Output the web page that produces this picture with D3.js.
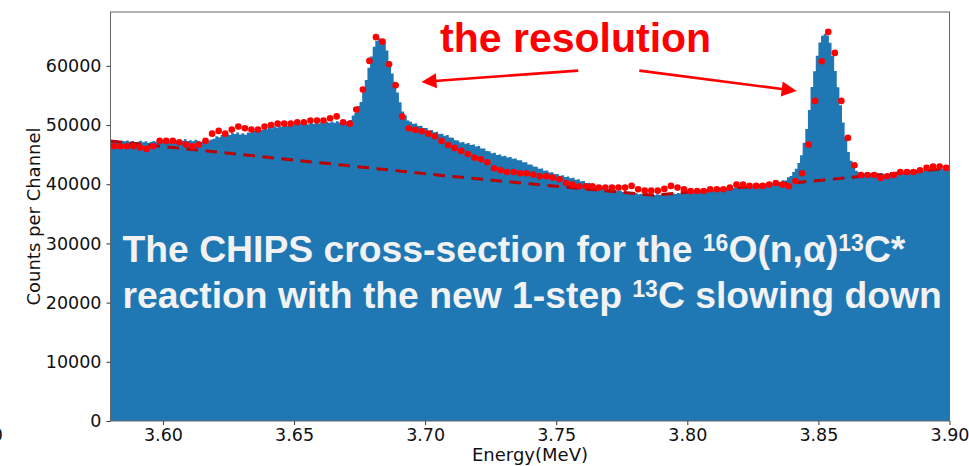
<!DOCTYPE html>
<html>
<head>
<meta charset="utf-8">
<script src="https://cdn.jsdelivr.net/npm/d3@7"></script>
<style>
  html, body { margin: 0; padding: 0; background: #fff; }
  svg { display: block; }
</style>
</head>
<body>
<svg id="chart" width="969" height="466"></svg>
<script>
// Energy spectrum: counts per 1 keV channel from 3.580 MeV upward
const binStart = 3.58;
const binWidth = 0.001;
const channelCounts = [
  47200, 47450, 47300, 47100, 47350, 47250, 47400, 47150, 47300, 47050,
  47200, 47350, 47100, 47250, 47000, 47150, 47300, 47200, 47450, 47250,
  47350, 47100, 47300, 47500, 47250, 47400, 47200, 47350, 47600, 47300,
  47450, 47250, 47500, 47350, 47200, 47450, 47600, 47400, 47550, 47700,
  48100, 47950, 48300, 48150, 48500, 48300, 48650, 48480, 48750, 48400,
  48600, 48350, 48750, 48650, 49100, 48980, 49350, 49150, 49480, 49300,
  49650, 49450, 49800, 49600, 49900, 49700, 50050, 49850, 50150, 49900,
  50200, 50000, 50300, 50050, 50350, 50150, 50400, 50200, 50450, 50250,
  50500, 50300, 50550, 50380, 50600, 50400, 50650, 50450, 50700, 50500,
  50700, 50850, 51600, 52050, 53200, 53900, 56000, 57600, 59700, 61600,
  63250, 64200, 64650, 64600, 63950, 62600, 60800, 58700, 57300, 55500,
  53850, 52300, 51600, 50750, 50550, 50200, 50250, 49850, 49900, 49500,
  49500, 49050, 49150, 48780, 48850, 48480, 48550, 48200, 48300, 47900,
  47850, 47450, 47400, 47050, 47150, 46850, 46950, 46620, 46700, 46380,
  46450, 46050, 46030, 45600, 45580, 45250, 45300, 44950, 45020, 44720,
  44800, 44520, 44600, 44300, 44350, 44050, 44070, 43700, 43720, 43350,
  43350, 42980, 42960, 42600, 42640, 42300, 42330, 42000, 42030, 41700,
  41740, 41450, 41520, 41230, 41300, 41020, 41080, 40780, 40830, 40520,
  40540, 40230, 40250, 39930, 39950, 39630, 39650, 39370, 39420, 39150,
  39210, 38990, 39080, 38870, 38940, 38700, 38770, 38530, 38610, 38400,
  38500, 38290, 38390, 38200, 38300, 38120, 38290, 38170, 38330, 38210,
  38380, 38260, 38430, 38300, 38470, 38350, 38520, 38420, 38630, 38550,
  38750, 38670, 38860, 38760, 38950, 38850, 39040, 38940, 39130, 39020,
  39210, 39110, 39300, 39200, 39390, 39290, 39480, 39380, 39570, 39470,
  39660, 39560, 39750, 39650, 39840, 39730, 39930, 39820, 40020, 39910,
  40100, 40000, 40190, 40090, 40370, 40360, 40660, 40650, 41180, 41400,
  42050, 42600, 43600, 44900, 47000, 49350, 52550, 56450, 59100, 61700,
  63950, 65100, 65400, 65150, 63900, 61650, 59150, 56400, 53350, 50450,
  48000, 45450, 43950, 42750, 42300, 42030, 42040, 41850, 41950, 41760,
  41860, 41680, 41810, 41670, 41820, 41680, 41800, 41700, 41890, 41790,
  41980, 41880, 42060, 41950, 42120, 42010, 42190, 42090, 42300, 42200,
  42410, 42320, 42520, 42420, 42610, 42510, 42700, 42600, 42790, 42700
];

// CHIPS calculation, sampled every 2.5 keV
const dotStart = 3.58125;
const dotStep = 0.0025;
const dotCounts = [
  46420, 46420, 46420, 46420, 46190, 45970, 46420, 47320, 47320, 47320,
  47100, 46700, 46420, 46700, 47320, 48550, 49010, 48550, 49230, 49740,
  49470, 49230, 49230, 49740, 50020, 50240, 50240, 50240, 50480, 50480,
  50750, 50750, 50750, 51160, 51460, 50480, 50240, 52610, 55990, 60840,
  64850, 64100, 60280, 56730, 51430, 49470, 49180, 48960, 48550, 48110,
  47320, 46640, 46140, 45630, 45120, 44500, 44230, 43720, 42710, 42370,
  42080, 42080, 41860, 41860, 41630, 41360, 41360, 41120, 40850, 40220,
  39940, 39670, 39670, 39670, 39430, 39430, 39430, 39430, 39430, 39720,
  39160, 38920, 38920, 38920, 39210, 39720, 39430, 39160, 38870, 38870,
  38870, 39160, 39160, 39160, 39430, 39940, 39940, 39720, 39720, 39720,
  39940, 40220, 39940, 39670, 40560, 41860, 46700, 54080, 60790, 65740,
  62190, 54080, 47830, 43210, 41570, 41570, 41570, 41070, 41360, 41570,
  42080, 42080, 42080, 42370, 42760, 42980, 42980, 42760
];

// Background estimate under the peaks
const bgEnergy = [3.58, 3.665, 3.707, 3.787, 3.844, 3.90];
const bgCounts = [47300, 43400, 41450, 38130, 40390, 42700];

const xTicks = [3.60, 3.65, 3.70, 3.75, 3.80, 3.85, 3.90];
const yTicks = [0, 10000, 20000, 30000, 40000, 50000, 60000];
const xDomain = [3.58, 3.90];
const yDomain = [0, 69100];

const W = 969, H = 466;
const m = { top: 12, right: 19.5, bottom: 45, left: 110.5 };
const iw = W - m.left - m.right, ih = H - m.top - m.bottom;

const svg = d3.select("#chart");
const g = svg.append("g").attr("transform", `translate(${m.left},${m.top})`);

const x = d3.scaleLinear().domain(xDomain).range([0, iw]);
const y = d3.scaleLinear().domain(yDomain).range([ih, 0]);

// histogram as a stepped area over channel edges
const steps = channelCounts.map((v, i) => ({ e: binStart + i * binWidth, v }));
steps.push({ e: binStart + channelCounts.length * binWidth, v: channelCounts[channelCounts.length - 1] });
g.append("path")
  .datum(steps)
  .attr("fill", "#1f77b4")
  .attr("d", d3.area().curve(d3.curveStepAfter)
    .x(d => x(d.e)).y0(y(0)).y1(d => y(d.v)));

// background dashed line
g.append("path")
  .datum(bgEnergy.map((e, i) => ({ e, v: bgCounts[i] })))
  .attr("fill", "none")
  .attr("stroke", "#bb0000")
  .attr("stroke-width", 3)
  .attr("stroke-dasharray", "11.5,7.6")
  .attr("d", d3.line().x(d => x(d.e)).y(d => y(d.v)));

// calculation points
g.append("g").selectAll("circle")
  .data(dotCounts)
  .join("circle")
  .attr("cx", (d, k) => x(dotStart + k * dotStep))
  .attr("cy", d => y(d))
  .attr("r", 3.3)
  .attr("fill", "#ff0000");

// axes
const tickFont = "'DejaVu Sans', sans-serif";
const yAxis = g.append("g")
  .call(d3.axisLeft(y).tickValues(yTicks).tickSize(4).tickPadding(5).tickFormat(d3.format("d")));
const xAxis = g.append("g").attr("transform", `translate(0,${ih})`)
  .call(d3.axisBottom(x).tickValues(xTicks).tickSize(4).tickPadding(4).tickFormat(d3.format(".2f")));
[yAxis, xAxis].forEach(a => {
  a.select(".domain").remove();
  a.selectAll(".tick line").attr("stroke", "#333");
  a.selectAll(".tick text").attr("fill", "#111")
    .style("font-family", tickFont).style("font-size", "17.5px");
});

// frame
g.append("rect")
  .attr("x", 0).attr("y", 0).attr("width", iw).attr("height", ih)
  .attr("fill", "none").attr("stroke", "#666").attr("stroke-width", 1);

// axis titles
svg.append("text")
  .attr("transform", `translate(40,${m.top + ih / 2}) rotate(-90)`)
  .attr("text-anchor", "middle")
  .style("font-family", tickFont).style("font-size", "18px").attr("fill", "#111")
  .text("Counts per Channel");
svg.append("text")
  .attr("x", m.left + iw / 2).attr("y", 461)
  .attr("text-anchor", "middle")
  .style("font-family", tickFont).style("font-size", "18px").attr("fill", "#111")
  .text("Energy(MeV)");
// stray tick label at the far left edge
svg.append("text")
  .attr("x", 3).attr("y", 441)
  .attr("text-anchor", "end")
  .style("font-family", tickFont).style("font-size", "17.5px").attr("fill", "#111")
  .text("0");

// annotation
const red = "#ff0000";
g.append("text")
  .attr("x", x(3.7057)).attr("y", y(62360))
  .style("font-family", "'Liberation Sans', Arial, sans-serif")
  .style("font-size", "41px").style("font-weight", "bold")
  .attr("fill", red)
  .text("the resolution");

function arrow(e0, v0, e1, v1) {
  const x0 = x(e0), y0 = y(v0), x1 = x(e1), y1 = y(v1);
  const len = Math.hypot(x1 - x0, y1 - y0);
  const ux = (x1 - x0) / len, uy = (y1 - y0) / len;
  const hl = 15, hw = 7.5;
  const bx = x1 - ux * hl, by = y1 - uy * hl;
  g.append("line")
    .attr("x1", x0).attr("y1", y0).attr("x2", bx + ux * 2).attr("y2", by + uy * 2)
    .attr("stroke", red).attr("stroke-width", 2.6);
  g.append("path")
    .attr("d", `M${x1},${y1}L${bx - uy * hw},${by + ux * hw}L${bx + uy * hw},${by - ux * hw}Z`)
    .attr("fill", red);
}
arrow(3.7584, 59200, 3.6986, 57290);
arrow(3.7817, 59200, 3.8417, 55770);

// caption over the spectrum
const capFont = "'Liberation Sans', Arial, sans-serif";
const sup = (t) => ({ t, sup: true });
const line1 = ["The CHIPS cross-section for the ", sup("16"), "O(n,α)", sup("13"), "C*"];
const line2 = ["reaction with the new 1-step ", sup("13"), "C slowing down"];
function captionLine(parts, lineY) {
  const t = g.append("text")
    .attr("x", 12).attr("y", lineY)
    .style("font-family", capFont).style("font-size", "37.3px").style("font-weight", "bold")
    .attr("fill", "#f2f2f2");
  parts.forEach(p => {
    if (typeof p === "string") {
      t.append("tspan").attr("y", lineY).text(p);
    } else {
      t.append("tspan").attr("y", lineY - 11).style("font-size", "23px").text(p.t);
    }
  });
}
captionLine(line1, 261.7 - m.top);
captionLine(line2, 307.5 - m.top);
</script>
</body>
</html>
